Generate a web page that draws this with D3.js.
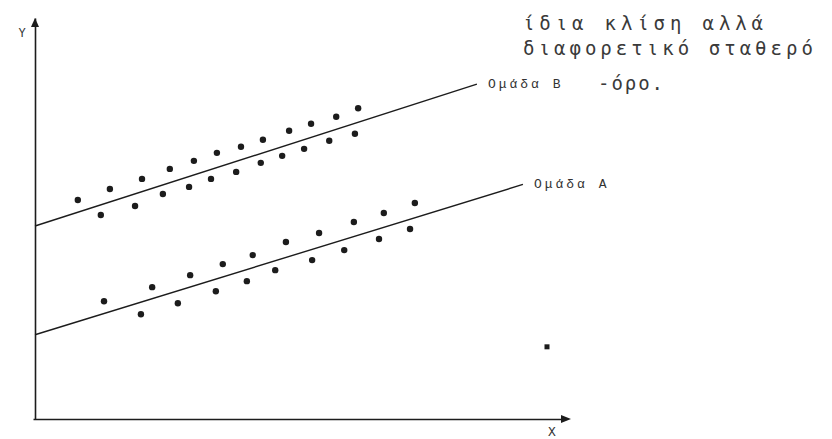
<!DOCTYPE html>
<html>
<head>
<meta charset="utf-8">
<script src="https://cdn.jsdelivr.net/npm/d3@7"></script>
<style>
  body { margin: 0; background: #fff; }
  svg { display: block; }
</style>
</head>
<body>
<script>
// values (x: 0..10, y: 0..8 units)
var groupB = [
  [0.80, 4.37], [1.40, 4.59], [2.00, 4.79], [2.52, 4.99], [2.97, 5.15], [3.40, 5.31],
  [3.85, 5.43], [4.26, 5.57], [4.75, 5.75], [5.16, 5.89], [5.63, 6.03], [6.04, 6.20],
  [1.23, 4.07], [1.87, 4.25], [2.39, 4.49], [2.88, 4.63], [3.29, 4.79], [3.76, 4.93],
  [4.22, 5.11], [4.62, 5.25], [5.03, 5.39], [5.50, 5.55], [5.98, 5.69]
];
var groupA = [
  [1.29, 2.35], [2.19, 2.63], [2.90, 2.87], [3.51, 3.09], [4.07, 3.27], [4.69, 3.53],
  [5.31, 3.71], [5.96, 3.93], [6.52, 4.11], [7.10, 4.31],
  [1.98, 2.09], [2.67, 2.31], [3.38, 2.55], [3.96, 2.75], [4.49, 2.97], [5.18, 3.17],
  [5.78, 3.37], [6.43, 3.59], [7.01, 3.79]
];
var lineB = [[0, 3.85], [8.26, 6.68]];
var lineA = [[0, 1.68], [9.12, 4.68]];
var stray = [[9.57, 1.44]];
var lineLabels = ["Ομάδα B", "Ομάδα A"];
var note = ["ίδια κλίση αλλά", "διαφορετικό σταθερό", "-όρο."];

var width = 832, height = 439;

var x = d3.scaleLinear().domain([0, 10]).range([35, 570]);
var y = d3.scaleLinear().domain([0, 8]).range([419, 18]);

var svg = d3.select("body").append("svg")
    .attr("width", width)
    .attr("height", height);

var ink = "#1c1c1c";

// axes (no ticks, just the two arrows)
svg.append("g")
    .attr("transform", "translate(" + x(0) + ",0)")
    .call(d3.axisLeft(y).tickValues([]).tickSizeOuter(0))
    .select(".domain").attr("stroke", ink).attr("stroke-width", 1.6);

svg.append("g")
    .attr("transform", "translate(0," + y(0) + ")")
    .call(d3.axisBottom(x.copy().range([33, 566])).tickValues([]).tickSizeOuter(0))
    .select(".domain").attr("stroke", ink).attr("stroke-width", 1.6);

// arrow heads
svg.append("path")
    .attr("d", "M" + (x(0) - 4) + "," + (y(8) + 9) + "L" + x(0) + "," + y(8) + "L" + (x(0) + 4) + "," + (y(8) + 9) + "Z")
    .attr("fill", ink);
svg.append("path")
    .attr("d", "M" + (x(10) - 9) + "," + (y(0) - 4) + "L" + (x(10) + 1) + "," + y(0) + "L" + (x(10) - 9) + "," + (y(0) + 4) + "Z")
    .attr("fill", ink);

svg.append("text")
    .attr("x", x(0) - 13).attr("y", y(8) + 19)
    .attr("text-anchor", "middle")
    .style("font-family", "Liberation Mono, monospace")
    .style("font-size", "12px")
    .attr("fill", "#333")
    .text("Y");

svg.append("text")
    .attr("x", x(10) - 18).attr("y", y(0) + 17)
    .attr("text-anchor", "middle")
    .style("font-family", "Liberation Mono, monospace")
    .style("font-size", "13px")
    .attr("fill", "#333")
    .text("X");

// regression lines
var line = d3.line().x(function(d) { return x(d[0]); }).y(function(d) { return y(d[1]); });

svg.selectAll(".fit")
    .data([lineB, lineA])
  .enter().append("path")
    .attr("class", "fit")
    .attr("d", line)
    .attr("fill", "none")
    .attr("stroke", ink)
    .attr("stroke-width", 1.4);

svg.selectAll(".lbl")
    .data([lineB, lineA])
  .enter().append("text")
    .attr("class", "lbl")
    .attr("x", function(d) { return x(d[1][0]) + 11; })
    .attr("y", function(d) { return y(d[1][1]) + 4; })
    .style("font-family", "Liberation Mono, monospace")
    .style("font-size", "13px")
    .style("letter-spacing", "3px")
    .attr("fill", "#333")
    .text(function(d, i) { return lineLabels[i]; });

// points
svg.selectAll(".pt")
    .data(groupB.concat(groupA))
  .enter().append("circle")
    .attr("class", "pt")
    .attr("cx", function(d) { return x(d[0]); })
    .attr("cy", function(d) { return y(d[1]); })
    .attr("r", 3.2)
    .attr("fill", ink);

svg.selectAll(".stray")
    .data(stray)
  .enter().append("rect")
    .attr("x", function(d) { return x(d[0]) - 2.5; })
    .attr("y", function(d) { return y(d[1]) - 2.5; })
    .attr("width", 5).attr("height", 5)
    .attr("fill", ink);

// handwritten note
var notePos = [[523, 30, 240], [523, 55, 290], [598, 90, 65]];
svg.selectAll(".note")
    .data(note)
  .enter().append("text")
    .attr("class", "note")
    .attr("x", function(d, i) { return notePos[i][0]; })
    .attr("y", function(d, i) { return notePos[i][1]; })
    .attr("textLength", function(d, i) { return notePos[i][2]; })
    .attr("lengthAdjust", "spacing")
    .style("font-family", "DejaVu Sans Mono, monospace")
    .style("font-size", "19px")
    .attr("fill", "#3a3a3a")
    .text(function(d) { return d; });
</script>
</body>
</html>
